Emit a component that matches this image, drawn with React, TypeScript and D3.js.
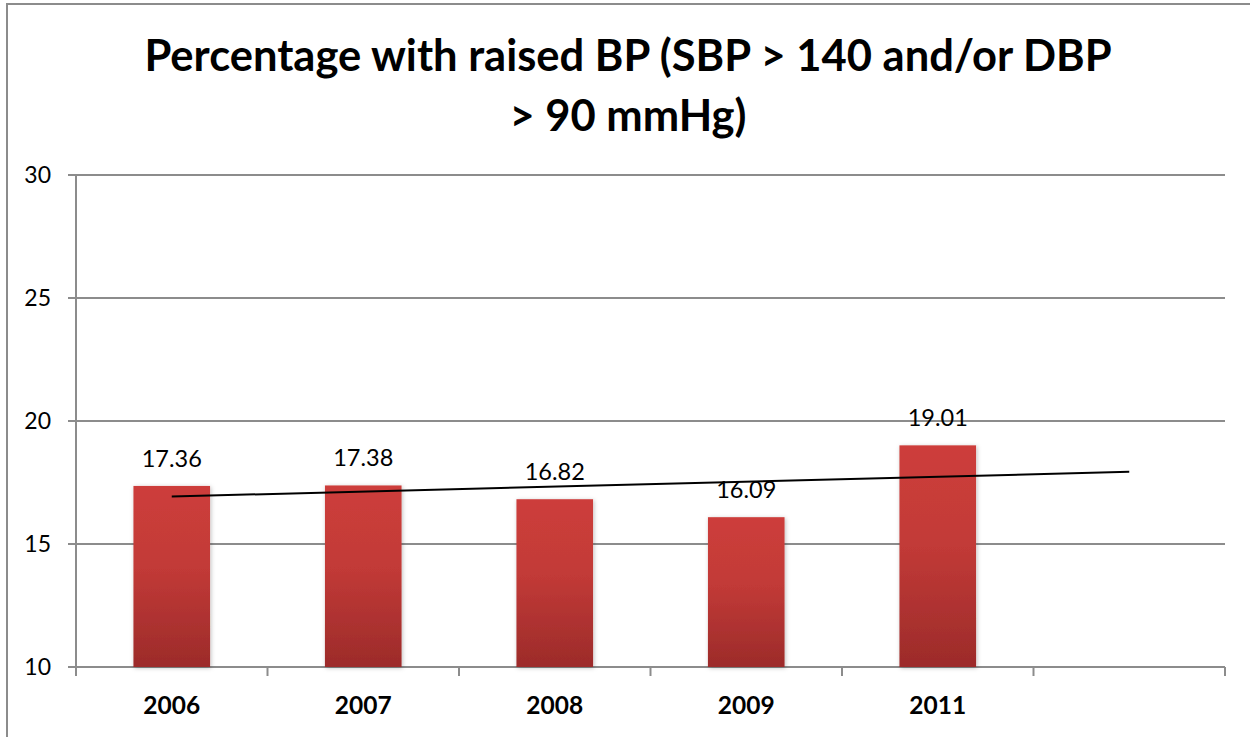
import React from 'react';
import * as d3 from 'd3';

const years = ['2006', '2007', '2008', '2009', '2011'];
const values = [17.36, 17.38, 16.82, 16.09, 19.01];
const yTicks = [10, 15, 20, 25, 30];
const titleLines = ['Percentage with raised BP (SBP > 140 and/or DBP', '> 90 mmHg)'];

const W = 1250;
const H = 737;
const margin = { left: 76, right: 25, top: 175, bottom: 70 };
const font = 'Lato, Calibri, "Open Sans", sans-serif';

const App: React.FC = () => {
  // six slots on the axis: five years plus the forecast slot for the trendline
  const slots = [...years, ''];
  const x = d3.scaleBand<string>()
    .domain(slots.map((d, i) => String(i)))
    .range([margin.left, W - margin.right])
    .paddingInner(0)
    .paddingOuter(0);
  const y = d3.scaleLinear().domain([10, 30]).range([H - margin.bottom, margin.top]);
  const bw = x.bandwidth() / 2.5;
  const cx = (i: number) => (x(String(i)) || 0) + x.bandwidth() / 2;

  // linear trendline (least squares), extended by one period
  const xs = values.map((_, i) => i + 1);
  const mx = d3.mean(xs)!;
  const my = d3.mean(values)!;
  const slope = d3.sum(xs, (xi, i) => (xi - mx) * (values[i] - my)) / d3.sum(xs, xi => (xi - mx) ** 2);
  const trend = (t: number) => my + slope * (t - mx);
  const trendPts: [number, number][] = [0, 5].map(i => [cx(i), y(trend(i + 1))]);
  const line = d3.line();

  const x0 = margin.left;
  const x1 = W - margin.right;
  const yBase = y(10);

  return (
    <svg width={W} height={H} style={{ position: 'absolute', left: 0, top: 0, background: '#fff' }}>
      <defs>
        <linearGradient id="barFill" x1="0" y1="0" x2="0" y2="1">
          <stop offset="0%" stopColor="#cd3e3b" />
          <stop offset="45%" stopColor="#c23a37" />
          <stop offset="100%" stopColor="#9c2b2a" />
        </linearGradient>
        <filter id="shadow" x="-20%" y="-10%" width="140%" height="120%">
          <feDropShadow dx="1" dy="1" stdDeviation="2" floodColor="#000" floodOpacity="0.25" />
        </filter>
      </defs>
      <rect x={7} y={4} width={W} height={H} fill="none" stroke="#8c8c8c" strokeWidth={2} />

      {titleLines.map((t, i) => (
        <text key={i} x={628} y={71 + i * 60} textAnchor="middle" fontFamily={font}
          fontWeight="bold" fontSize={43.5} fill="#000">{t}</text>
      ))}

      {yTicks.map(t => (
        <g key={t}>
          <line x1={x0 - 8} x2={x1} y1={y(t)} y2={y(t)} stroke="#8c8c8c" strokeWidth={2} />
          <text x={51} y={y(t) + 8} textAnchor="end" fontFamily={font} fontSize={23} fill="#000">{t}</text>
        </g>
      ))}
      <line x1={x0} x2={x0} y1={y(30)} y2={yBase + 9} stroke="#8c8c8c" strokeWidth={2} />
      {slots.map((_, i) => (
        <line key={i} x1={(x(String(i)) || 0) + x.bandwidth()} x2={(x(String(i)) || 0) + x.bandwidth()}
          y1={yBase} y2={yBase + 9} stroke="#8c8c8c" strokeWidth={2} />
      ))}

      {values.map((v, i) => (
        <g key={years[i]}>
          <rect x={cx(i) - bw / 2} y={y(v)} width={bw} height={yBase - y(v)}
            fill="url(#barFill)" filter="url(#shadow)" />
          <text x={cx(i)} y={y(v) - 19} textAnchor="middle" fontFamily={font} fontSize={23.5} fill="#000">
            {v.toFixed(2)}
          </text>
          <text x={cx(i)} y={714} textAnchor="middle" fontFamily={font} fontWeight="bold" fontSize={24.5} fill="#000">
            {years[i]}
          </text>
        </g>
      ))}

      <path d={line(trendPts) || ''} stroke="#000" strokeWidth={2} fill="none" />
    </svg>
  );
};

export default App;
